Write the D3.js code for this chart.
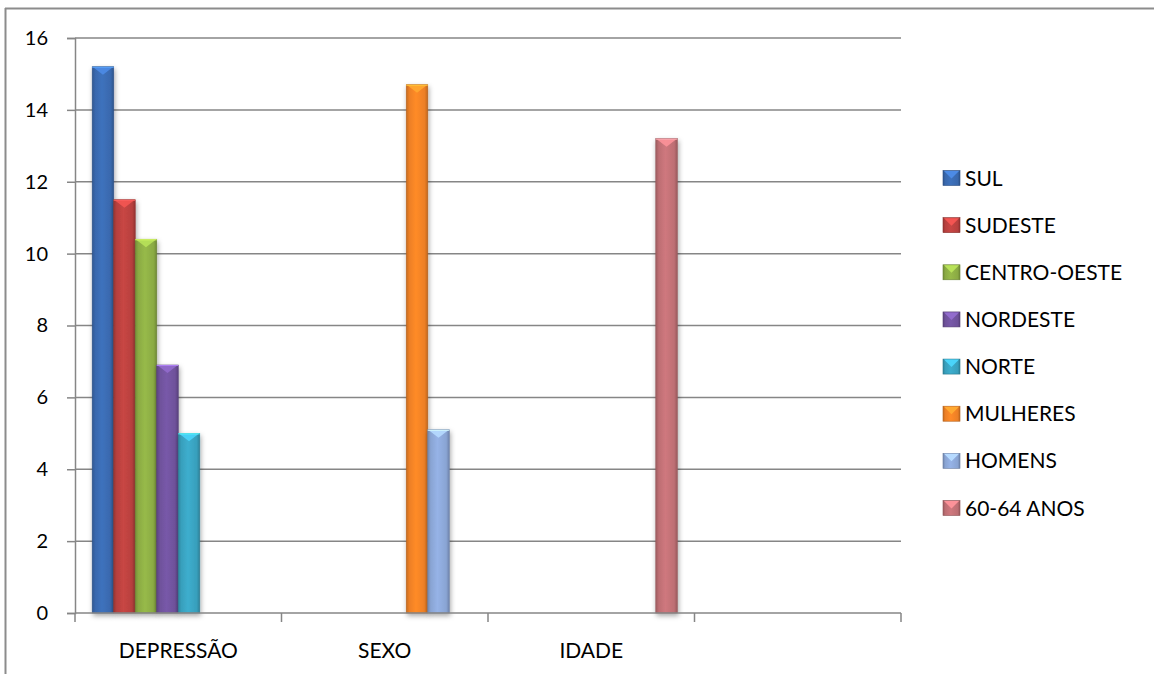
<!DOCTYPE html>
<html>
<head>
<meta charset="utf-8">
<script src="https://cdn.jsdelivr.net/npm/d3@7"></script>
<style>
  html, body { margin: 0; padding: 0; background: #ffffff; }
  svg { display: block; }
  text { font-family: Lato, "Open Sans", sans-serif; fill: #000; }
</style>
</head>
<body>
<svg id="chart" width="1154" height="674"></svg>
<script>
// ---- data ----
const categories = ["DEPRESSÃO", "SEXO", "IDADE", ""];
const seriesNames = ["SUL", "SUDESTE", "CENTRO-OESTE", "NORDESTE", "NORTE", "MULHERES", "HOMENS", "60-64 ANOS"];
const seriesCategory = ["DEPRESSÃO", "DEPRESSÃO", "DEPRESSÃO", "DEPRESSÃO", "DEPRESSÃO", "SEXO", "SEXO", "IDADE"];
const seriesValues = [15.2, 11.5, 10.4, 6.9, 5.0, 14.7, 5.1, 13.2];
const seriesColors = ["#3b6cb3", "#be4240", "#8fb045", "#7254a0", "#3aa5c3", "#f58426", "#8eaadb", "#c47277"];
const yTicks = [0, 2, 4, 6, 8, 10, 12, 14, 16];

// ---- layout ----
const svg = d3.select("#chart");
const plot = { left: 75, right: 901, top: 38, bottom: 613 };

const x0 = d3.scaleBand().domain(categories).range([plot.left, plot.right]).paddingInner(0).paddingOuter(0);
const x1 = d3.scaleBand().domain(seriesNames).range([0, x0.bandwidth()]).paddingInner(0).paddingOuter(0.8);
const y = d3.scaleLinear().domain([0, 16]).range([plot.bottom, plot.top]);

const defs = svg.append("defs");
const shadow = defs.append("filter").attr("id", "shadow").attr("x", "-30%").attr("y", "-10%").attr("width", "160%").attr("height", "130%");
shadow.append("feDropShadow").attr("dx", 1).attr("dy", 2.5).attr("stdDeviation", 2.5).attr("flood-color", "#000").attr("flood-opacity", 0.35);

seriesColors.forEach((c, i) => {
  const base = d3.color(c);
  const g = defs.append("linearGradient").attr("id", "grad" + i).attr("x1", "0%").attr("x2", "100%").attr("y1", "0%").attr("y2", "0%");
  g.append("stop").attr("offset", "0%").attr("stop-color", base.darker(0.6));
  g.append("stop").attr("offset", "14%").attr("stop-color", base.darker(0.1));
  g.append("stop").attr("offset", "45%").attr("stop-color", base.brighter(0.15));
  g.append("stop").attr("offset", "86%").attr("stop-color", base.darker(0.1));
  g.append("stop").attr("offset", "100%").attr("stop-color", base.darker(0.7));
});

// frame
svg.append("line").attr("x1", 5).attr("x2", 1154).attr("y1", 8.5).attr("y2", 8.5).attr("stroke", "#8c8c8c").attr("stroke-width", 2);
svg.append("line").attr("x1", 5.5).attr("x2", 5.5).attr("y1", 8).attr("y2", 674).attr("stroke", "#8c8c8c").attr("stroke-width", 2);

// gridlines + y axis
const yAxis = d3.axisLeft(y).tickValues(yTicks).tickSize(8).tickPadding(19).tickFormat(d3.format("d"));
const gy = svg.append("g").attr("transform", `translate(${plot.left},0)`).call(yAxis);
gy.select(".domain").attr("stroke", "#868686").attr("stroke-width", 1.5);
gy.selectAll(".tick line").attr("stroke", "#868686").attr("stroke-width", 1.5);
gy.selectAll(".tick text").attr("font-size", 20).attr("font-family", "Lato, sans-serif").attr("fill", "#000");

svg.append("g").selectAll("line").data(yTicks.filter(d => d > 0)).join("line")
  .attr("x1", plot.left).attr("x2", plot.right)
  .attr("y1", d => y(d)).attr("y2", d => y(d))
  .attr("stroke", "#868686").attr("stroke-width", 1.5);

// bars
const barsG = svg.append("g");
seriesNames.forEach((name, i) => {
  const cat = seriesCategory[i];
  const v = seriesValues[i];
  const bx = x0(cat) + x1(name);
  const bw = x1.bandwidth();
  const by = y(v);
  const bh = y(0) - by;
  const g = barsG.append("g");
  g.append("rect").attr("x", bx).attr("y", by).attr("width", bw).attr("height", bh)
    .attr("fill", `url(#grad${i})`).attr("filter", "url(#shadow)")
    .attr("stroke", d3.color(seriesColors[i]).darker(0.8)).attr("stroke-width", 0.6);
  const bev = 8;
  const light = d3.color(seriesColors[i]).brighter(0.7);
  g.append("polygon")
    .attr("points", [[bx + 1, by + 0.5], [bx + bw - 1, by + 0.5], [bx + bw / 2, by + bev]].map(p => p.join(",")).join(" "))
    .attr("fill", light).attr("opacity", 0.9);
  g.append("line").attr("x1", bx).attr("x2", bx + bw).attr("y1", by + 0.5).attr("y2", by + 0.5)
    .attr("stroke", d3.color(seriesColors[i]).brighter(1.2)).attr("stroke-width", 1);
});

// x axis
const xAxis = d3.axisBottom(x0).tickSize(0).tickPadding(0).tickFormat(d => d);
const gx = svg.append("g").attr("transform", `translate(0,${plot.bottom})`).call(xAxis);
gx.select(".domain").remove();
gx.selectAll(".tick text").attr("font-size", 21).attr("font-family", "Lato, sans-serif").attr("fill", "#000").attr("dy", 0).attr("y", 45);
svg.append("line").attr("x1", plot.left).attr("x2", plot.right).attr("y1", plot.bottom).attr("y2", plot.bottom)
  .attr("stroke", "#868686").attr("stroke-width", 1.5);
const boundaries = categories.map(c => x0(c)).concat([x0.range()[1]]);
svg.append("g").selectAll("line").data(boundaries).join("line")
  .attr("x1", d => d).attr("x2", d => d).attr("y1", plot.bottom).attr("y2", plot.bottom + 9)
  .attr("stroke", "#868686").attr("stroke-width", 1.5);

// legend
const legend = svg.append("g");
const legY = d3.scalePoint().domain(seriesNames).range([178, 508]);
seriesNames.forEach((name, i) => {
  const cy = legY(name);
  const base = d3.color(seriesColors[i]);
  legend.append("rect").attr("x", 943).attr("y", cy - 7.5).attr("width", 17).attr("height", 15)
    .attr("fill", `url(#grad${i})`).attr("stroke", base.darker(0.9)).attr("stroke-width", 0.6);
  legend.append("polygon")
    .attr("points", [[944, cy - 7], [959, cy - 7], [951.5, cy + 0.5]].map(p => p.join(",")).join(" "))
    .attr("fill", base.brighter(0.7));
  legend.append("text").attr("x", 965).attr("y", cy).attr("dy", "0.36em")
    .attr("font-size", 21).text(name);
});
</script>
</body>
</html>
